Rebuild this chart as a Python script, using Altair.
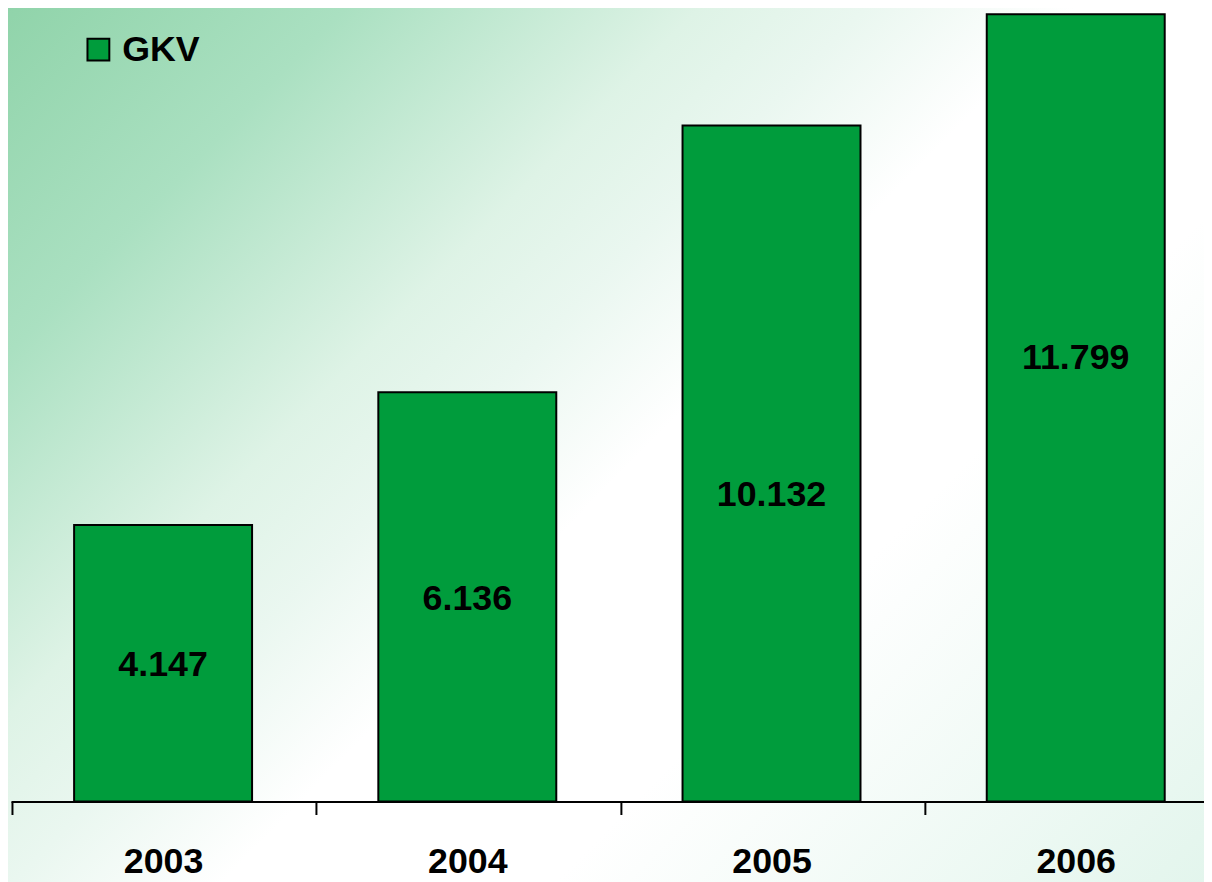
import altair as alt
import pandas as pd

years = ["2003", "2004", "2005", "2006"]
values = [4.147, 6.136, 10.132, 11.799]
series = ["GKV", "GKV", "GKV", "GKV"]
# vertical position of each value label inside its bar (data units)
label_at = [2.04, 3.04, 4.6, 6.65]

df = pd.DataFrame({"year": years, "value": values, "series": series, "label_at": label_at})

FONT = "Liberation Sans"
W, H = 1204, 796
STEP = 304.2

bg_gradient = alt.LinearGradient(
    gradient="linear",
    x1=0, y1=0, x2=1.135, y2=0.81,
    stops=[
        alt.GradientStop(offset=0.0, color="#8fd3a9"),
        alt.GradientStop(offset=0.17, color="#aae0c1"),
        alt.GradientStop(offset=0.34, color="#def3e6"),
        alt.GradientStop(offset=0.42, color="#eaf7f0"),
        alt.GradientStop(offset=0.52, color="#ffffff"),
        alt.GradientStop(offset=0.68, color="#ffffff"),
        alt.GradientStop(offset=1.0, color="#e2f5ec"),
    ],
)

bg = alt.Chart(pd.DataFrame({"k": [0]})).mark_rect(
    color=bg_gradient, clip=False, strokeWidth=0
).encode(
    x=alt.value(-10), x2=alt.value(W + 10), y=alt.value(-10), y2=alt.value(H + 90)
)

xenc = alt.X(
    "year:N",
    sort=years,
    scale=alt.Scale(range=[3, 1228], paddingInner=0.415, paddingOuter=0.2075),
    axis=alt.Axis(
        title=None,
        zindex=2,
        domainColor="black",
        domainWidth=2,
        tickColor="black",
        tickWidth=2,
        tickSize=13,
        tickOffset=-STEP / 2,
        labelOffset=STEP / 2,
        labelFont=FONT,
        labelFontSize=36,
        labelFontWeight="bold",
        labelColor="black",
        labelPadding=30,
        labelAngle=0,
    ),
)
yscale = alt.Scale(domain=[0, 11.85], nice=False, zero=True)

bars = alt.Chart(df).mark_bar(stroke="black", strokeWidth=2).encode(
    x=xenc,
    y=alt.Y("value:Q", scale=yscale, axis=None),
    color=alt.Color(
        "series:N",
        scale=alt.Scale(range=["#009c3c"]),
        legend=alt.Legend(
            title=None,
            orient="none",
            legendX=73,
            legendY=21,
            padding=0,
            symbolType="square",
            symbolSize=484,
            symbolStrokeColor="black",
            symbolStrokeWidth=2,
            symbolOpacity=1,
            labelFont=FONT,
            labelFontSize=36,
            labelFontWeight="bold",
            labelColor="black",
            labelOffset=6,
            zindex=3,
        ),
    ),
)

labels = alt.Chart(df).mark_text(
    font=FONT, fontSize=36, fontWeight="bold", color="black", baseline="middle"
).encode(
    x=xenc,
    y=alt.Y("label_at:Q", scale=yscale, axis=None),
    text=alt.Text("value:Q", format=".3f"),
)

chart = alt.layer(bg, bars, labels).properties(
    width=W,
    height=H,
    autosize=alt.AutoSizeParams(type="none"),
    padding={"left": 0, "top": 0, "right": 0, "bottom": 78},
    background="white",
).configure_view(stroke=None)

chart.save("out.html", embed_options={"renderer": "svg", "actions": False})
